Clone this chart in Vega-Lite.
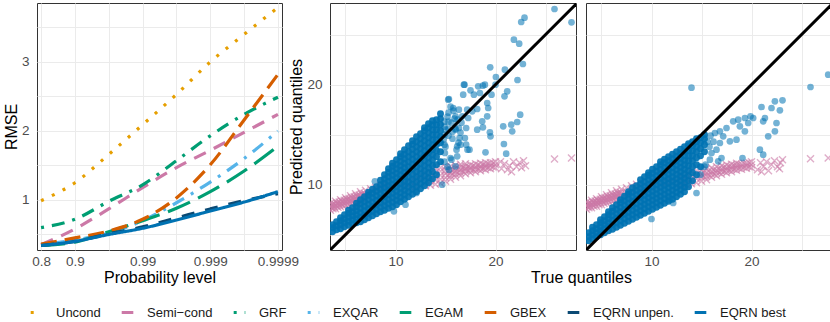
{
  "$schema": "https://vega.github.io/schema/vega-lite/v6.json",
  "padding": {"left": 2, "right": 1, "top": 0, "bottom": 0},
  "bounds": "flush",
  "spacing": 10,
  "config": {
    "font": "Liberation Sans",
    "view": {"stroke": "#333333", "strokeWidth": 1},
    "axis": {"grid": true, "gridColor": "#EBEBEB", "gridWidth": 1, "ticks": false, "domain": false, "labelFontSize": 13.5, "labelColor": "#4D4D4D", "titleFontSize": 16, "titleFontWeight": "normal", "titleColor": "#000000", "labelPadding": 8, "labelFlush": false, "labelOverlap": false},
    "axisX": {"labelPadding": 4}
  },
  "datasets": {
    "rmse": [
      {"m":"Uncond","pos":0,"v":0.99},{"m":"Uncond","pos":1,"v":1.25},{"m":"Uncond","pos":2,"v":1.66},{"m":"Uncond","pos":3,"v":2.09},{"m":"Uncond","pos":4,"v":2.53},{"m":"Uncond","pos":5,"v":3.0},{"m":"Uncond","pos":6,"v":3.4},{"m":"Uncond","pos":7,"v":3.79},
      {"m":"Semi\u2212cond","pos":0,"v":0.35},{"m":"Semi\u2212cond","pos":1,"v":0.58},{"m":"Semi\u2212cond","pos":2,"v":0.87},{"m":"Semi\u2212cond","pos":3,"v":1.18},{"m":"Semi\u2212cond","pos":4,"v":1.47},{"m":"Semi\u2212cond","pos":5,"v":1.72},{"m":"Semi\u2212cond","pos":6,"v":1.98},{"m":"Semi\u2212cond","pos":7,"v":2.24},
      {"m":"GRF","pos":0,"v":0.6},{"m":"GRF","pos":1,"v":0.72},{"m":"GRF","pos":2,"v":0.98},{"m":"GRF","pos":3,"v":1.22},{"m":"GRF","pos":4,"v":1.57},{"m":"GRF","pos":5,"v":1.93},{"m":"GRF","pos":6,"v":2.24},{"m":"GRF","pos":7,"v":2.49},
      {"m":"EXQAR","pos":0,"v":0.35},{"m":"EXQAR","pos":1,"v":0.42},{"m":"EXQAR","pos":2,"v":0.52},{"m":"EXQAR","pos":3,"v":0.7},{"m":"EXQAR","pos":4,"v":0.96},{"m":"EXQAR","pos":5,"v":1.26},{"m":"EXQAR","pos":6,"v":1.6},{"m":"EXQAR","pos":7,"v":2.0},
      {"m":"EGAM","pos":0,"v":0.34},{"m":"EGAM","pos":1,"v":0.39},{"m":"EGAM","pos":2,"v":0.54},{"m":"EGAM","pos":3,"v":0.7},{"m":"EGAM","pos":4,"v":0.88},{"m":"EGAM","pos":5,"v":1.12},{"m":"EGAM","pos":6,"v":1.42},{"m":"EGAM","pos":7,"v":1.78},
      {"m":"GBEX","pos":0,"v":0.36},{"m":"GBEX","pos":1,"v":0.45},{"m":"GBEX","pos":2,"v":0.55},{"m":"GBEX","pos":3,"v":0.72},{"m":"GBEX","pos":4,"v":1.03},{"m":"GBEX","pos":5,"v":1.51},{"m":"GBEX","pos":6,"v":2.16},{"m":"GBEX","pos":7,"v":2.82},
      {"m":"EQRN unpen.","pos":0,"v":0.34},{"m":"EQRN unpen.","pos":1,"v":0.4},{"m":"EQRN unpen.","pos":2,"v":0.51},{"m":"EQRN unpen.","pos":3,"v":0.61},{"m":"EQRN unpen.","pos":4,"v":0.74},{"m":"EQRN unpen.","pos":5,"v":0.87},{"m":"EQRN unpen.","pos":6,"v":0.99},{"m":"EQRN unpen.","pos":7,"v":1.09},
      {"m":"EQRN best","pos":0,"v":0.34},{"m":"EQRN best","pos":1,"v":0.4},{"m":"EQRN best","pos":2,"v":0.5},{"m":"EQRN best","pos":3,"v":0.59},{"m":"EQRN best","pos":4,"v":0.71},{"m":"EQRN best","pos":5,"v":0.84},{"m":"EQRN best","pos":6,"v":0.97},{"m":"EQRN best","pos":7,"v":1.12}
    ],
    "diag": [{"x":0,"y":0},{"x":30,"y":30}],
    "mp": [
      {"x":3.5,"y":7.45},{"x":3.5,"y":7.8},{"x":3.5,"y":8.15},{"x":3.75,"y":7.6},{"x":3.75,"y":8.0},
      {"x":4.0,"y":7.6},{"x":4.0,"y":7.98},{"x":4.0,"y":8.35},{"x":4.25,"y":7.75},{"x":4.25,"y":8.15},
      {"x":4.5,"y":7.8},{"x":4.5,"y":8.15},{"x":4.5,"y":8.5},{"x":4.75,"y":7.9},{"x":4.75,"y":8.3},
      {"x":5.0,"y":7.95},{"x":5.0,"y":8.35},{"x":5.0,"y":8.7},{"x":5.25,"y":8.05},{"x":5.25,"y":8.5},
      {"x":5.5,"y":8.1},{"x":5.5,"y":8.5},{"x":5.5,"y":8.9},{"x":5.75,"y":8.2},{"x":5.75,"y":8.65},
      {"x":6.0,"y":8.25},{"x":6.0,"y":8.7},{"x":6.0,"y":9.1},{"x":6.25,"y":8.35},{"x":6.25,"y":8.85},
      {"x":6.5,"y":8.4},{"x":6.5,"y":8.85},{"x":6.5,"y":9.3},{"x":6.75,"y":8.5},{"x":6.75,"y":9.0},
      {"x":7.0,"y":8.55},{"x":7.0,"y":9.0},{"x":7.0,"y":9.45},
      {"x":3.62,"y":7.7},{"x":3.62,"y":8.0},{"x":3.87,"y":7.78},{"x":3.87,"y":8.08},{"x":4.12,"y":7.87},{"x":4.12,"y":8.17},{"x":4.37,"y":7.96},{"x":4.37,"y":8.26},
      {"x":4.62,"y":8.05},{"x":4.62,"y":8.35},{"x":4.87,"y":8.14},{"x":4.87,"y":8.44},{"x":5.12,"y":8.23},{"x":5.12,"y":8.53},{"x":5.37,"y":8.31},{"x":5.37,"y":8.61},
      {"x":5.62,"y":8.4},{"x":5.62,"y":8.7},{"x":5.87,"y":8.49},{"x":5.87,"y":8.79},{"x":6.12,"y":8.58},{"x":6.12,"y":8.88},{"x":6.37,"y":8.67},{"x":6.37,"y":8.97},
      {"x":6.62,"y":8.76},{"x":6.62,"y":9.06},{"x":6.87,"y":8.85},{"x":6.87,"y":9.15},
      {"x":7.5,"y":9.15},{"x":7.5,"y":9.6},{"x":8.0,"y":9.3},{"x":8.0,"y":9.75},{"x":8.5,"y":9.45},{"x":8.5,"y":9.9},
      {"x":9.0,"y":9.6},{"x":9.0,"y":10.1},{"x":9.5,"y":9.75},{"x":10.0,"y":9.9},{"x":10.5,"y":10.0},
      {"x":11.0,"y":9.7},{"x":11.0,"y":10.15},{"x":11.5,"y":9.8},{"x":11.5,"y":10.3},
      {"x":12.0,"y":9.8},{"x":12.0,"y":10.4},{"x":12.0,"y":10.9},{"x":12.5,"y":9.9},{"x":12.5,"y":10.5},{"x":12.5,"y":11.0},
      {"x":13.0,"y":9.9},{"x":13.0,"y":10.3},{"x":13.0,"y":10.7},{"x":13.0,"y":11.2},
      {"x":13.5,"y":9.95},{"x":13.5,"y":10.35},{"x":13.5,"y":10.75},{"x":13.5,"y":11.2},
      {"x":14.0,"y":10.05},{"x":14.0,"y":10.45},{"x":14.0,"y":10.85},{"x":14.0,"y":11.25},{"x":14.0,"y":11.6},
      {"x":14.5,"y":10.15},{"x":14.5,"y":10.55},{"x":14.5,"y":10.95},{"x":14.5,"y":11.35},{"x":14.5,"y":11.7},
      {"x":15.0,"y":10.35},{"x":15.0,"y":10.7},{"x":15.0,"y":11.1},{"x":15.0,"y":11.45},{"x":15.0,"y":11.8},
      {"x":15.5,"y":10.55},{"x":15.5,"y":10.9},{"x":15.5,"y":11.2},{"x":15.5,"y":11.55},{"x":15.5,"y":11.85},
      {"x":16.0,"y":10.75},{"x":16.0,"y":11.05},{"x":16.0,"y":11.35},{"x":16.0,"y":11.65},{"x":16.0,"y":11.95},
      {"x":16.5,"y":10.9},{"x":16.5,"y":11.2},{"x":16.5,"y":11.5},{"x":16.5,"y":11.8},{"x":16.5,"y":12.05},
      {"x":17.0,"y":11.1},{"x":17.0,"y":11.4},{"x":17.0,"y":11.6},{"x":17.0,"y":11.85},{"x":17.0,"y":12.1},
      {"x":17.5,"y":11.2},{"x":17.5,"y":11.5},{"x":17.5,"y":11.7},{"x":17.5,"y":12.0},
      {"x":18.0,"y":11.3},{"x":18.0,"y":11.55},{"x":18.0,"y":11.8},{"x":18.0,"y":12.1},
      {"x":18.5,"y":11.4},{"x":18.5,"y":11.65},{"x":18.5,"y":11.85},{"x":18.5,"y":12.15},
      {"x":19.0,"y":11.5},{"x":19.0,"y":11.75},{"x":19.0,"y":11.95},{"x":19.0,"y":12.2},
      {"x":19.5,"y":11.6},{"x":19.5,"y":11.9},{"x":19.5,"y":12.2},
      {"x":20.0,"y":11.7},{"x":20.0,"y":12.0},{"x":20.0,"y":12.3},
      {"x":15.25,"y":10.94},{"x":15.25,"y":11.34},{"x":15.75,"y":11.07},{"x":15.75,"y":11.47},{"x":16.25,"y":11.2},{"x":16.25,"y":11.6},
      {"x":16.75,"y":11.33},{"x":16.75,"y":11.73},{"x":17.25,"y":11.43},{"x":17.25,"y":11.83},{"x":17.75,"y":11.5},{"x":17.75,"y":11.9},
      {"x":18.25,"y":11.57},{"x":18.25,"y":11.97},{"x":18.75,"y":11.63},{"x":18.75,"y":12.03},{"x":19.25,"y":11.7},{"x":19.25,"y":12.1},
      {"x":19.75,"y":11.77},{"x":19.75,"y":12.17},
      {"x":20.6,"y":11.6},{"x":20.9,"y":12.1},{"x":21.2,"y":11.5},{"x":21.4,"y":11.9},{"x":21.8,"y":12.3},{"x":22.1,"y":11.8},
      {"x":22.4,"y":12.2},{"x":22.8,"y":12.4},{"x":23.0,"y":11.9},{"x":20.5,"y":12.3},{"x":21.6,"y":11.3},{"x":22.6,"y":11.7},
      {"x":25.9,"y":12.57},{"x":27.6,"y":12.67}
    ],
    "mb": [
      {"x":3.7,"y":5.3},{"x":3.7,"y":5.7},{"x":3.7,"y":6.0},
      {"x":4.1,"y":5.5},{"x":4.1,"y":5.9},{"x":4.1,"y":6.3},
      {"x":4.5,"y":5.6},{"x":4.5,"y":6.0},{"x":4.5,"y":6.4},{"x":4.5,"y":6.7},
      {"x":4.9,"y":5.8},{"x":4.9,"y":6.2},{"x":4.9,"y":6.6},{"x":4.9,"y":7.0},
      {"x":5.3,"y":5.95},{"x":5.3,"y":6.35},{"x":5.3,"y":6.75},{"x":5.3,"y":7.15},{"x":5.3,"y":7.45},
      {"x":5.7,"y":6.1},{"x":5.7,"y":6.5},{"x":5.7,"y":6.9},{"x":5.7,"y":7.3},{"x":5.7,"y":7.7},
      {"x":6.1,"y":6.2},{"x":6.1,"y":6.6},{"x":6.1,"y":7.0},{"x":6.1,"y":7.4},{"x":6.1,"y":7.8},{"x":6.1,"y":8.15},
      {"x":6.5,"y":6.3},{"x":6.5,"y":6.75},{"x":6.5,"y":7.2},{"x":6.5,"y":7.65},{"x":6.5,"y":8.1},{"x":6.5,"y":8.5},
      {"x":6.9,"y":6.5},{"x":6.9,"y":6.95},{"x":6.9,"y":7.4},{"x":6.9,"y":7.85},{"x":6.9,"y":8.3},{"x":6.9,"y":8.8},
      {"x":7.3,"y":6.7},{"x":7.3,"y":7.15},{"x":7.3,"y":7.6},{"x":7.3,"y":8.05},{"x":7.3,"y":8.5},{"x":7.3,"y":8.95},{"x":7.3,"y":9.25},
      {"x":7.7,"y":6.9},{"x":7.7,"y":7.35},{"x":7.7,"y":7.8},{"x":7.7,"y":8.25},{"x":7.7,"y":8.7},{"x":7.7,"y":9.15},{"x":7.7,"y":9.55},
      {"x":8.1,"y":7.1},{"x":8.1,"y":7.55},{"x":8.1,"y":8.0},{"x":8.1,"y":8.45},{"x":8.1,"y":8.9},{"x":8.1,"y":9.35},{"x":8.1,"y":9.8},
      {"x":8.5,"y":7.3},{"x":8.5,"y":7.75},{"x":8.5,"y":8.2},{"x":8.5,"y":8.65},{"x":8.5,"y":9.1},{"x":8.5,"y":9.55},{"x":8.5,"y":10.0},{"x":8.5,"y":10.45},
      {"x":8.9,"y":7.45},{"x":8.9,"y":7.9},{"x":8.9,"y":8.35},{"x":8.9,"y":8.8},{"x":8.9,"y":9.25},{"x":8.9,"y":9.7},{"x":8.9,"y":10.15},{"x":8.9,"y":10.6},{"x":8.9,"y":11.0},
      {"x":9.3,"y":7.65},{"x":9.3,"y":8.1},{"x":9.3,"y":8.55},{"x":9.3,"y":9.0},{"x":9.3,"y":9.45},{"x":9.3,"y":9.9},{"x":9.3,"y":10.35},{"x":9.3,"y":10.8},{"x":9.3,"y":11.25},{"x":9.3,"y":11.6},
      {"x":9.7,"y":7.8},{"x":9.7,"y":8.25},{"x":9.7,"y":8.7},{"x":9.7,"y":9.15},{"x":9.7,"y":9.6},{"x":9.7,"y":10.05},{"x":9.7,"y":10.5},{"x":9.7,"y":10.95},{"x":9.7,"y":11.4},{"x":9.7,"y":11.85},{"x":9.7,"y":12.15},
      {"x":10.1,"y":8.0},{"x":10.1,"y":8.45},{"x":10.1,"y":8.9},{"x":10.1,"y":9.35},{"x":10.1,"y":9.8},{"x":10.1,"y":10.25},{"x":10.1,"y":10.7},{"x":10.1,"y":11.15},{"x":10.1,"y":11.6},{"x":10.1,"y":12.05},{"x":10.1,"y":12.5},
      {"x":10.5,"y":8.3},{"x":10.5,"y":8.75},{"x":10.5,"y":9.2},{"x":10.5,"y":9.65},{"x":10.5,"y":10.1},{"x":10.5,"y":10.55},{"x":10.5,"y":11.0},{"x":10.5,"y":11.45},{"x":10.5,"y":11.9},{"x":10.5,"y":12.35},{"x":10.5,"y":12.8},{"x":10.5,"y":13.1},
      {"x":10.9,"y":8.55},{"x":10.9,"y":9.0},{"x":10.9,"y":9.45},{"x":10.9,"y":9.9},{"x":10.9,"y":10.35},{"x":10.9,"y":10.8},{"x":10.9,"y":11.25},{"x":10.9,"y":11.7},{"x":10.9,"y":12.15},{"x":10.9,"y":12.6},{"x":10.9,"y":13.05},{"x":10.9,"y":13.5},
      {"x":11.3,"y":8.8},{"x":11.3,"y":9.3},{"x":11.3,"y":9.8},{"x":11.3,"y":10.3},{"x":11.3,"y":10.8},{"x":11.3,"y":11.3},{"x":11.3,"y":11.8},{"x":11.3,"y":12.3},{"x":11.3,"y":12.8},{"x":11.3,"y":13.3},{"x":11.3,"y":13.9},
      {"x":11.7,"y":9.05},{"x":11.7,"y":9.55},{"x":11.7,"y":10.05},{"x":11.7,"y":10.55},{"x":11.7,"y":11.05},{"x":11.7,"y":11.55},{"x":11.7,"y":12.05},{"x":11.7,"y":12.55},{"x":11.7,"y":13.05},{"x":11.7,"y":13.55},{"x":11.7,"y":14.05},{"x":11.7,"y":14.4},
      {"x":12.1,"y":9.3},{"x":12.1,"y":9.8},{"x":12.1,"y":10.3},{"x":12.1,"y":10.8},{"x":12.1,"y":11.3},{"x":12.1,"y":11.8},{"x":12.1,"y":12.3},{"x":12.1,"y":12.8},{"x":12.1,"y":13.3},{"x":12.1,"y":13.8},{"x":12.1,"y":14.3},{"x":12.1,"y":14.8},
      {"x":12.5,"y":9.6},{"x":12.5,"y":10.1},{"x":12.5,"y":10.6},{"x":12.5,"y":11.1},{"x":12.5,"y":11.6},{"x":12.5,"y":12.1},{"x":12.5,"y":12.6},{"x":12.5,"y":13.1},{"x":12.5,"y":13.6},{"x":12.5,"y":14.1},{"x":12.5,"y":14.6},{"x":12.5,"y":15.1},
      {"x":12.9,"y":9.9},{"x":12.9,"y":10.4},{"x":12.9,"y":10.9},{"x":12.9,"y":11.4},{"x":12.9,"y":11.9},{"x":12.9,"y":12.4},{"x":12.9,"y":12.9},{"x":12.9,"y":13.4},{"x":12.9,"y":13.9},{"x":12.9,"y":14.4},{"x":12.9,"y":14.9},{"x":12.9,"y":15.4},{"x":12.9,"y":15.7},
      {"x":13.3,"y":10.2},{"x":13.3,"y":10.7},{"x":13.3,"y":11.2},{"x":13.3,"y":11.7},{"x":13.3,"y":12.2},{"x":13.3,"y":12.7},{"x":13.3,"y":13.2},{"x":13.3,"y":13.7},{"x":13.3,"y":14.2},{"x":13.3,"y":14.7},{"x":13.3,"y":15.2},{"x":13.3,"y":15.7},{"x":13.3,"y":16.1},
      {"x":13.7,"y":10.6},{"x":13.7,"y":11.3},{"x":13.7,"y":11.9},{"x":13.7,"y":12.5},{"x":13.7,"y":13.0},{"x":13.7,"y":13.5},{"x":13.7,"y":14.0},{"x":13.7,"y":14.5},{"x":13.7,"y":15.0},{"x":13.7,"y":15.5},{"x":13.7,"y":16.0},{"x":13.7,"y":16.4},
      {"x":14.1,"y":11.0},{"x":14.1,"y":12.0},{"x":14.1,"y":12.8},{"x":14.1,"y":13.4},{"x":14.1,"y":14.0},{"x":14.1,"y":14.5},{"x":14.1,"y":15.0},{"x":14.1,"y":15.5},{"x":14.1,"y":16.0},{"x":14.1,"y":16.5},
      {"x":14.5,"y":12.3},{"x":14.5,"y":13.3},{"x":14.5,"y":14.2},{"x":14.5,"y":14.8},{"x":14.5,"y":15.4},{"x":14.5,"y":16.0},{"x":14.5,"y":16.6},{"x":14.5,"y":17.1}
    ],
    "mbo": [
      {"x":25.9,"y":27.57},{"x":22.9,"y":26.7},{"x":22.57,"y":26.27},{"x":27.6,"y":26.24},{"x":21.84,"y":24.5},{"x":22.37,"y":24.1},{"x":22.74,"y":22.07},{"x":19.47,"y":21.74},
      {"x":20.94,"y":21.5},{"x":20.04,"y":20.77},{"x":22.2,"y":20.47},{"x":16.9,"y":20.0},{"x":18.27,"y":19.84},{"x":18.74,"y":19.9},{"x":18.94,"y":20.0},{"x":20.0,"y":20.0},
      {"x":17.5,"y":19.44},{"x":21.17,"y":19.34},{"x":20.9,"y":18.84},{"x":19.6,"y":19.0},{"x":16.77,"y":19.0},{"x":17.84,"y":19.0},{"x":18.44,"y":19.17},{"x":15.34,"y":18.57},
      {"x":19.17,"y":18.17},{"x":19.27,"y":17.67},{"x":18.17,"y":17.57},{"x":17.67,"y":17.34},{"x":17.17,"y":17.5},{"x":16.34,"y":17.5},{"x":16.0,"y":16.84},{"x":16.67,"y":16.84},
      {"x":17.27,"y":16.67},{"x":19.17,"y":16.84},{"x":22.47,"y":17.0},{"x":22.17,"y":16.27},{"x":21.57,"y":16.0},{"x":20.77,"y":15.84},{"x":18.67,"y":16.34},{"x":18.74,"y":15.74},
      {"x":18.17,"y":15.5},{"x":17.07,"y":15.67},{"x":21.67,"y":15.34},{"x":19.44,"y":15.24},{"x":19.5,"y":14.84},{"x":16.4,"y":14.67},{"x":16.94,"y":14.67},{"x":16.0,"y":15.5},
      {"x":16.34,"y":15.67},{"x":20.84,"y":14.07},{"x":17.07,"y":14.0},{"x":16.17,"y":13.84},{"x":17.4,"y":13.5},{"x":19.0,"y":13.24},{"x":21.07,"y":13.1},{"x":16.17,"y":12.84},
      {"x":15.5,"y":12.67},{"x":16.0,"y":11.84},{"x":15.34,"y":11.5},{"x":16.84,"y":20.0},{"x":15.27,"y":18.5},{"x":15.77,"y":17.67},{"x":14.67,"y":10.0},{"x":9.84,"y":7.34},
      {"x":11.0,"y":8.0},{"x":12.1,"y":9.17},{"x":17.2,"y":13.5},{"x":16.5,"y":14.0},{"x":14.94,"y":13.17},{"x":15.6,"y":12.5},{"x":16.1,"y":13.5},{"x":7.94,"y":10.34},
      {"x":14.9,"y":16.3},{"x":15.0,"y":15.5},{"x":15.2,"y":16.8},{"x":15.3,"y":14.9},{"x":15.6,"y":16.2},{"x":15.8,"y":17.4},{"x":16.0,"y":15.6},{"x":16.2,"y":16.5},
      {"x":15.5,"y":17.8},{"x":14.8,"y":14.5},{"x":15.0,"y":13.8},{"x":14.9,"y":12.3},{"x":15.2,"y":11.8},
      {"x":14.9,"y":14.0},{"x":14.9,"y":15.0},{"x":14.9,"y":15.8},{"x":15.3,"y":15.6},{"x":15.3,"y":16.3},{"x":15.3,"y":17.2},{"x":15.7,"y":14.6},{"x":15.7,"y":15.3},
      {"x":15.9,"y":16.6},{"x":16.3,"y":14.2},{"x":16.5,"y":15.2},{"x":16.6,"y":16.2}
    ],
    "rp": [
      {"x":3.5,"y":7.55},{"x":3.5,"y":7.9},{"x":3.5,"y":8.25},{"x":3.75,"y":7.7},{"x":3.75,"y":8.1},
      {"x":4.0,"y":7.7},{"x":4.0,"y":8.08},{"x":4.0,"y":8.45},{"x":4.25,"y":7.85},{"x":4.25,"y":8.25},
      {"x":4.5,"y":7.85},{"x":4.5,"y":8.26},{"x":4.5,"y":8.6},{"x":4.75,"y":8.0},{"x":4.75,"y":8.4},
      {"x":5.0,"y":8.0},{"x":5.0,"y":8.44},{"x":5.0,"y":8.8},{"x":5.25,"y":8.15},{"x":5.25,"y":8.6},
      {"x":5.5,"y":8.2},{"x":5.5,"y":8.62},{"x":5.5,"y":9.0},{"x":5.75,"y":8.3},{"x":5.75,"y":8.75},
      {"x":6.0,"y":8.35},{"x":6.0,"y":8.8},{"x":6.0,"y":9.2},{"x":6.25,"y":8.45},{"x":6.25,"y":8.9},
      {"x":6.5,"y":8.5},{"x":6.5,"y":8.96},{"x":6.5,"y":9.4},{"x":6.75,"y":8.6},{"x":6.75,"y":9.1},
      {"x":7.0,"y":8.65},{"x":7.0,"y":9.12},{"x":7.0,"y":9.55},
      {"x":3.62,"y":7.8},{"x":3.62,"y":8.1},{"x":3.87,"y":7.88},{"x":3.87,"y":8.18},{"x":4.12,"y":7.97},{"x":4.12,"y":8.27},{"x":4.37,"y":8.06},{"x":4.37,"y":8.36},
      {"x":4.62,"y":8.15},{"x":4.62,"y":8.45},{"x":4.87,"y":8.24},{"x":4.87,"y":8.54},{"x":5.12,"y":8.33},{"x":5.12,"y":8.63},{"x":5.37,"y":8.41},{"x":5.37,"y":8.71},
      {"x":5.62,"y":8.5},{"x":5.62,"y":8.8},{"x":5.87,"y":8.59},{"x":5.87,"y":8.89},{"x":6.12,"y":8.68},{"x":6.12,"y":8.98},{"x":6.37,"y":8.77},{"x":6.37,"y":9.07},
      {"x":6.62,"y":8.86},{"x":6.62,"y":9.16},{"x":6.87,"y":8.95},{"x":6.87,"y":9.25},
      {"x":7.5,"y":8.8},{"x":7.5,"y":9.28},{"x":7.5,"y":9.7},{"x":8.0,"y":9.44},{"x":8.0,"y":9.9},{"x":8.5,"y":9.6},{"x":8.5,"y":10.05},
      {"x":9.0,"y":9.72},{"x":9.0,"y":10.2},{"x":9.5,"y":9.84},{"x":10.0,"y":9.96},{"x":10.5,"y":10.08},{"x":11.0,"y":10.2},{"x":11.5,"y":10.27},{"x":12.0,"y":10.34},
      {"x":12.5,"y":10.41},{"x":12.5,"y":9.9},{"x":13.0,"y":10.48},{"x":13.0,"y":9.95},{"x":13.0,"y":11.0},{"x":13.5,"y":10.55},{"x":13.5,"y":10.0},{"x":13.5,"y":11.1},
      {"x":14.0,"y":10.1},{"x":14.0,"y":10.5},{"x":14.0,"y":10.9},{"x":14.0,"y":11.3},
      {"x":14.5,"y":10.2},{"x":14.5,"y":10.6},{"x":14.5,"y":11.0},{"x":14.5,"y":11.4},
      {"x":15.0,"y":10.35},{"x":15.0,"y":10.75},{"x":15.0,"y":11.1},{"x":15.0,"y":11.5},
      {"x":15.5,"y":10.5},{"x":15.5,"y":10.85},{"x":15.5,"y":11.2},{"x":15.5,"y":11.6},
      {"x":16.0,"y":10.75},{"x":16.0,"y":11.05},{"x":16.0,"y":11.35},{"x":16.0,"y":11.7},
      {"x":16.5,"y":10.9},{"x":16.5,"y":11.2},{"x":16.5,"y":11.45},{"x":16.5,"y":11.8},
      {"x":17.0,"y":11.05},{"x":17.0,"y":11.35},{"x":17.0,"y":11.6},{"x":17.0,"y":11.9},
      {"x":17.5,"y":11.2},{"x":17.5,"y":11.45},{"x":17.5,"y":11.7},{"x":17.5,"y":12.0},
      {"x":18.0,"y":11.3},{"x":18.0,"y":11.55},{"x":18.0,"y":11.8},{"x":18.0,"y":12.05},
      {"x":18.5,"y":11.45},{"x":18.5,"y":11.7},{"x":18.5,"y":11.95},{"x":18.5,"y":12.15},
      {"x":19.0,"y":11.55},{"x":19.0,"y":11.8},{"x":19.0,"y":12.05},
      {"x":19.5,"y":11.65},{"x":19.5,"y":11.9},{"x":19.5,"y":12.15},
      {"x":20.0,"y":11.7},{"x":20.0,"y":12.0},{"x":20.0,"y":12.3},
      {"x":15.25,"y":10.8},{"x":15.25,"y":11.2},{"x":15.75,"y":10.95},{"x":15.75,"y":11.35},{"x":16.25,"y":11.08},{"x":16.25,"y":11.48},
      {"x":16.75,"y":11.22},{"x":16.75,"y":11.62},{"x":17.25,"y":11.35},{"x":17.25,"y":11.75},{"x":17.75,"y":11.45},{"x":17.75,"y":11.85},
      {"x":18.25,"y":11.55},{"x":18.25,"y":11.95},{"x":18.75,"y":11.65},{"x":18.75,"y":12.05},{"x":19.25,"y":11.75},{"x":19.25,"y":12.15},
      {"x":19.75,"y":11.8},{"x":19.75,"y":12.2},
      {"x":20.6,"y":11.5},{"x":20.9,"y":12.2},{"x":21.2,"y":11.8},{"x":21.5,"y":12.3},{"x":21.7,"y":11.4},{"x":22.0,"y":12.0},
      {"x":22.3,"y":12.4},{"x":22.6,"y":11.8},{"x":22.9,"y":12.2},{"x":23.1,"y":12.5},{"x":21.0,"y":11.3},{"x":22.8,"y":11.6},
      {"x":25.9,"y":12.6},{"x":27.67,"y":12.67}
    ],
    "rb": [
      {"x":3.7,"y":4.4},{"x":3.7,"y":4.8},{"x":3.7,"y":5.2},
      {"x":4.1,"y":4.6},{"x":4.1,"y":5.0},{"x":4.1,"y":5.4},{"x":4.1,"y":5.75},
      {"x":4.5,"y":4.8},{"x":4.5,"y":5.2},{"x":4.5,"y":5.6},{"x":4.5,"y":6.0},
      {"x":4.9,"y":5.0},{"x":4.9,"y":5.4},{"x":4.9,"y":5.8},{"x":4.9,"y":6.2},{"x":4.9,"y":6.5},
      {"x":5.3,"y":5.2},{"x":5.3,"y":5.6},{"x":5.3,"y":6.0},{"x":5.3,"y":6.4},{"x":5.3,"y":6.8},
      {"x":5.7,"y":5.4},{"x":5.7,"y":5.8},{"x":5.7,"y":6.2},{"x":5.7,"y":6.6},{"x":5.7,"y":7.0},{"x":5.7,"y":7.3},
      {"x":6.1,"y":5.55},{"x":6.1,"y":6.0},{"x":6.1,"y":6.45},{"x":6.1,"y":6.9},{"x":6.1,"y":7.35},{"x":6.1,"y":7.7},
      {"x":6.5,"y":5.75},{"x":6.5,"y":6.2},{"x":6.5,"y":6.65},{"x":6.5,"y":7.1},{"x":6.5,"y":7.55},{"x":6.5,"y":8.0},
      {"x":6.9,"y":5.95},{"x":6.9,"y":6.4},{"x":6.9,"y":6.85},{"x":6.9,"y":7.3},{"x":6.9,"y":7.75},{"x":6.9,"y":8.2},{"x":6.9,"y":8.5},
      {"x":7.3,"y":6.15},{"x":7.3,"y":6.6},{"x":7.3,"y":7.05},{"x":7.3,"y":7.5},{"x":7.3,"y":7.95},{"x":7.3,"y":8.4},{"x":7.3,"y":8.85},
      {"x":7.7,"y":6.35},{"x":7.7,"y":6.8},{"x":7.7,"y":7.25},{"x":7.7,"y":7.7},{"x":7.7,"y":8.15},{"x":7.7,"y":8.6},{"x":7.7,"y":9.05},{"x":7.7,"y":9.3},
      {"x":8.1,"y":6.55},{"x":8.1,"y":7.0},{"x":8.1,"y":7.45},{"x":8.1,"y":7.9},{"x":8.1,"y":8.35},{"x":8.1,"y":8.8},{"x":8.1,"y":9.25},{"x":8.1,"y":9.7},
      {"x":8.5,"y":6.75},{"x":8.5,"y":7.2},{"x":8.5,"y":7.65},{"x":8.5,"y":8.1},{"x":8.5,"y":8.55},{"x":8.5,"y":9.0},{"x":8.5,"y":9.45},{"x":8.5,"y":9.9},
      {"x":8.9,"y":6.95},{"x":8.9,"y":7.4},{"x":8.9,"y":7.85},{"x":8.9,"y":8.3},{"x":8.9,"y":8.75},{"x":8.9,"y":9.2},{"x":8.9,"y":9.65},{"x":8.9,"y":10.1},{"x":8.9,"y":10.5},
      {"x":9.3,"y":7.15},{"x":9.3,"y":7.6},{"x":9.3,"y":8.05},{"x":9.3,"y":8.5},{"x":9.3,"y":8.95},{"x":9.3,"y":9.4},{"x":9.3,"y":9.85},{"x":9.3,"y":10.3},{"x":9.3,"y":10.8},
      {"x":9.7,"y":7.35},{"x":9.7,"y":7.8},{"x":9.7,"y":8.25},{"x":9.7,"y":8.7},{"x":9.7,"y":9.15},{"x":9.7,"y":9.6},{"x":9.7,"y":10.05},{"x":9.7,"y":10.5},{"x":9.7,"y":10.95},{"x":9.7,"y":11.2},
      {"x":10.1,"y":7.55},{"x":10.1,"y":8.0},{"x":10.1,"y":8.45},{"x":10.1,"y":8.9},{"x":10.1,"y":9.35},{"x":10.1,"y":9.8},{"x":10.1,"y":10.25},{"x":10.1,"y":10.7},{"x":10.1,"y":11.15},{"x":10.1,"y":11.55},
      {"x":10.5,"y":7.75},{"x":10.5,"y":8.2},{"x":10.5,"y":8.65},{"x":10.5,"y":9.1},{"x":10.5,"y":9.55},{"x":10.5,"y":10.0},{"x":10.5,"y":10.45},{"x":10.5,"y":10.9},{"x":10.5,"y":11.35},{"x":10.5,"y":11.8},
      {"x":10.9,"y":7.95},{"x":10.9,"y":8.4},{"x":10.9,"y":8.85},{"x":10.9,"y":9.3},{"x":10.9,"y":9.75},{"x":10.9,"y":10.2},{"x":10.9,"y":10.65},{"x":10.9,"y":11.1},{"x":10.9,"y":11.55},{"x":10.9,"y":12.0},{"x":10.9,"y":12.3},
      {"x":11.3,"y":8.15},{"x":11.3,"y":8.6},{"x":11.3,"y":9.05},{"x":11.3,"y":9.5},{"x":11.3,"y":9.95},{"x":11.3,"y":10.4},{"x":11.3,"y":10.85},{"x":11.3,"y":11.3},{"x":11.3,"y":11.75},{"x":11.3,"y":12.2},{"x":11.3,"y":12.55},
      {"x":11.7,"y":8.35},{"x":11.7,"y":8.8},{"x":11.7,"y":9.25},{"x":11.7,"y":9.7},{"x":11.7,"y":10.15},{"x":11.7,"y":10.6},{"x":11.7,"y":11.05},{"x":11.7,"y":11.5},{"x":11.7,"y":11.95},{"x":11.7,"y":12.4},{"x":11.7,"y":12.8},
      {"x":12.1,"y":8.55},{"x":12.1,"y":9.0},{"x":12.1,"y":9.45},{"x":12.1,"y":9.9},{"x":12.1,"y":10.35},{"x":12.1,"y":10.8},{"x":12.1,"y":11.25},{"x":12.1,"y":11.7},{"x":12.1,"y":12.15},{"x":12.1,"y":12.6},{"x":12.1,"y":13.05},
      {"x":12.5,"y":8.8},{"x":12.5,"y":9.25},{"x":12.5,"y":9.7},{"x":12.5,"y":10.15},{"x":12.5,"y":10.6},{"x":12.5,"y":11.05},{"x":12.5,"y":11.5},{"x":12.5,"y":11.95},{"x":12.5,"y":12.4},{"x":12.5,"y":12.85},{"x":12.5,"y":13.3},
      {"x":12.9,"y":9.05},{"x":12.9,"y":9.5},{"x":12.9,"y":9.95},{"x":12.9,"y":10.4},{"x":12.9,"y":10.85},{"x":12.9,"y":11.3},{"x":12.9,"y":11.75},{"x":12.9,"y":12.2},{"x":12.9,"y":12.65},{"x":12.9,"y":13.1},{"x":12.9,"y":13.55},
      {"x":13.3,"y":9.3},{"x":13.3,"y":9.75},{"x":13.3,"y":10.2},{"x":13.3,"y":10.65},{"x":13.3,"y":11.1},{"x":13.3,"y":11.55},{"x":13.3,"y":12.0},{"x":13.3,"y":12.45},{"x":13.3,"y":12.9},{"x":13.3,"y":13.35},{"x":13.3,"y":13.8},
      {"x":13.7,"y":9.8},{"x":13.7,"y":10.4},{"x":13.7,"y":10.9},{"x":13.7,"y":11.4},{"x":13.7,"y":11.9},{"x":13.7,"y":12.4},{"x":13.7,"y":12.9},{"x":13.7,"y":13.4},{"x":13.7,"y":13.9},{"x":13.7,"y":14.1},
      {"x":14.1,"y":10.4},{"x":14.1,"y":11.2},{"x":14.1,"y":11.8},{"x":14.1,"y":12.4},{"x":14.1,"y":12.9},{"x":14.1,"y":13.4},{"x":14.1,"y":13.9},{"x":14.1,"y":14.3},
      {"x":14.5,"y":11.0},{"x":14.5,"y":12.0},{"x":14.5,"y":12.7},{"x":14.5,"y":13.3},{"x":14.5,"y":13.8},{"x":14.5,"y":14.3},{"x":14.5,"y":14.6},
      {"x":14.9,"y":11.8},{"x":14.9,"y":12.9},{"x":14.9,"y":13.6},{"x":14.9,"y":14.2},{"x":14.9,"y":14.7},
      {"x":15.3,"y":13.3},{"x":15.3,"y":14.0},{"x":15.3,"y":14.6},{"x":15.3,"y":15.0}
    ],
    "rbo": [
      {"x":14.0,"y":19.7},{"x":21.0,"y":17.77},{"x":22.0,"y":17.67},{"x":22.84,"y":17.44},{"x":22.34,"y":18.34},{"x":23.1,"y":18.44},{"x":19.9,"y":16.84},{"x":20.17,"y":16.67},
      {"x":21.34,"y":16.67},{"x":21.17,"y":16.34},{"x":22.5,"y":16.17},{"x":21.67,"y":14.84},{"x":22.34,"y":15.34},{"x":20.84,"y":13.5},{"x":21.17,"y":13.0},{"x":19.1,"y":12.67},
      {"x":19.34,"y":15.34},{"x":18.84,"y":15.84},{"x":18.5,"y":14.5},{"x":17.84,"y":14.34},{"x":17.17,"y":14.84},{"x":16.84,"y":14.17},{"x":18.67,"y":16.5},{"x":19.34,"y":16.67},
      {"x":19.67,"y":16.17},{"x":18.17,"y":16.34},{"x":17.5,"y":15.67},{"x":16.84,"y":15.34},{"x":16.34,"y":15.17},{"x":16.5,"y":13.5},{"x":16.0,"y":13.17},{"x":17.0,"y":12.67},
      {"x":15.84,"y":12.5},{"x":16.67,"y":12.34},{"x":14.5,"y":9.17},{"x":10.0,"y":6.57},{"x":12.17,"y":8.17},{"x":11.84,"y":8.5},{"x":25.9,"y":19.77},{"x":27.67,"y":21.0},
      {"x":15.6,"y":14.3},{"x":15.9,"y":14.9},{"x":15.4,"y":12.0},{"x":15.8,"y":13.8},{"x":16.2,"y":14.3},{"x":14.9,"y":11.0},{"x":15.3,"y":11.8}
    ]
  },
  "hconcat": [
    {
      "width": 245,
      "height": 247,
      "data": {"name": "rmse"},
      "mark": {"type": "line", "strokeWidth": 3.2, "interpolate": "monotone"},
      "encoding": {
        "x": {"field": "pos", "type": "quantitative", "scale": {"domain": [-0.12, 7.12], "nice": false, "zero": false},
              "axis": {"values": [0,1,2,3,4,5,6,7], "labelExpr": "datum.value == 0 ? '0.8' : datum.value == 1 ? '0.9' : datum.value == 3 ? '0.99' : datum.value == 5 ? '0.999' : datum.value == 7 ? '0.9999' : ''", "title": "Probability level", "titlePadding": 2}},
        "y": {"field": "v", "type": "quantitative", "scale": {"domain": [0.275, 3.855], "nice": false, "zero": false},
              "axis": {"values": [0.5,1,1.5,2,2.5,3,3.5], "labelExpr": "datum.value % 1 == 0 ? format(datum.value, 'd') : ''", "title": "RMSE", "titlePadding": 2}},
        "color": {"field": "m", "type": "nominal",
          "scale": {"domain": ["Uncond","Semi\u2212cond","GRF","EXQAR","EGAM","GBEX","EQRN unpen.","EQRN best"],
                    "range": ["#E69F00","#CC79A7","#009E73","#56B4E9","#009E73","#D55E00","#0B4A74","#0072B2"]},
          "legend": {"orient": "none", "legendX": -8, "legendY": 302, "direction": "horizontal", "columns": 8, "gridAlign": "none", "title": null, "symbolType": "stroke", "symbolSize": 135, "symbolStrokeWidth": 3, "labelFontSize": 13, "labelOffset": 12, "columnPadding": 14, "labelColor": "#1A1A1A"}},
        "strokeDash": {"field": "m", "type": "nominal",
          "scale": {"domain": ["Uncond","Semi\u2212cond","GRF","EXQAR","EGAM","GBEX","EQRN unpen.","EQRN best"],
                    "range": [[3,9],[13,9],[3,8,13,8],[3,8,13,8],[24,9],[16,8],[13,11],[1,0]]},
          "legend": {"orient": "none", "legendX": -8, "legendY": 302, "direction": "horizontal", "columns": 8, "gridAlign": "none", "title": null, "symbolType": "stroke", "symbolSize": 135, "symbolStrokeWidth": 3, "labelFontSize": 13, "labelOffset": 12, "columnPadding": 14, "labelColor": "#1A1A1A"}}
      }
    },
    {
      "width": 28,
      "height": 247,
      "view": {"stroke": null},
      "data": {"values": [{}]},
      "mark": {"type": "point", "opacity": 0}
    },
    {
      "width": 246,
      "height": 247,
      "encoding": {
        "x": {"field": "x", "type": "quantitative", "scale": {"domain": [3.45, 28.05], "nice": false, "zero": false},
              "axis": {"values": [5,10,15,20,25], "labelExpr": "datum.value % 10 == 0 ? datum.label : ''", "title": "True quantiles", "titleX": 251, "titlePadding": 2}},
        "y": {"field": "y", "type": "quantitative", "scale": {"domain": [3.47, 28.17], "nice": false, "zero": false},
              "axis": {"values": [5,10,15,20,25], "labelExpr": "datum.value % 10 == 0 ? datum.label : ''", "title": "Predicted quantiles", "titlePadding": 2}}
      },
      "layer": [
        {"data": {"name": "mp"}, "mark": {"type": "point", "shape": "M-1,-1L1,1M1,-1L-1,1", "filled": false, "color": "#CC79A7", "opacity": 0.6, "size": 49, "strokeWidth": 1.4, "clip": true}},
        {"data": {"name": "mb"}, "mark": {"type": "circle", "color": "#0072B2", "opacity": 0.92, "size": 48, "clip": true}},
        {"data": {"name": "mbo"}, "mark": {"type": "circle", "color": "#0072B2", "opacity": 0.55, "size": 45, "clip": true}},
        {"data": {"name": "diag"}, "mark": {"type": "line", "color": "#000000", "strokeWidth": 3, "clip": true}}
      ]
    },
    {
      "width": 246,
      "height": 247,
      "encoding": {
        "x": {"field": "x", "type": "quantitative", "scale": {"domain": [3.45, 28.05], "nice": false, "zero": false},
              "axis": {"values": [5,10,15,20,25], "labelExpr": "datum.value % 10 == 0 ? datum.label : ''", "title": null}},
        "y": {"field": "y", "type": "quantitative", "scale": {"domain": [3.47, 28.17], "nice": false, "zero": false},
              "axis": {"values": [5,10,15,20,25], "labels": false, "title": null}}
      },
      "layer": [
        {"data": {"name": "rp"}, "mark": {"type": "point", "shape": "M-1,-1L1,1M1,-1L-1,1", "filled": false, "color": "#CC79A7", "opacity": 0.6, "size": 49, "strokeWidth": 1.4, "clip": true}},
        {"data": {"name": "rb"}, "mark": {"type": "circle", "color": "#0072B2", "opacity": 0.92, "size": 48, "clip": true}},
        {"data": {"name": "rbo"}, "mark": {"type": "circle", "color": "#0072B2", "opacity": 0.55, "size": 45, "clip": true}},
        {"data": {"name": "diag"}, "mark": {"type": "line", "color": "#000000", "strokeWidth": 3, "clip": true}}
      ]
    }
  ]
}
